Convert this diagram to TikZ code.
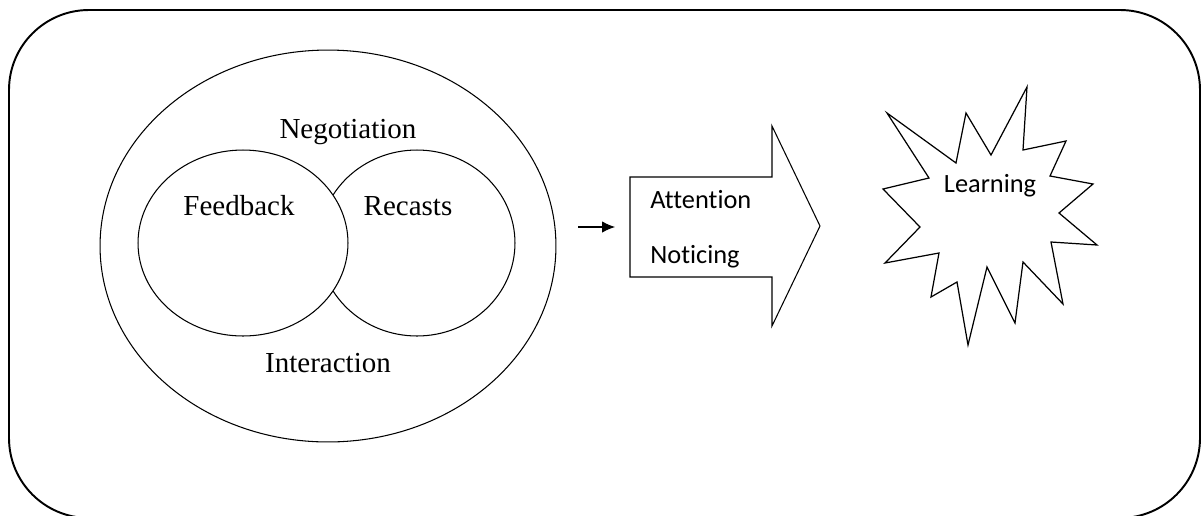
\documentclass[tikz,border=0pt]{standalone}
\usepackage{fontspec}
\setmainfont{Liberation Serif}
\newfontfamily\calibfont[Ligatures=NoCommon]{Carlito}
\usetikzlibrary{positioning, shapes.geometric, arrows.meta}

\begin{document}
\begin{tikzpicture}[x=0.02cm, y=-0.02cm,
    ring/.style={draw, ellipse, inner sep=0pt, line width=0.6pt},
    serifword/.style={font=\fontsize{16.5}{18}\selectfont, inner sep=0pt},
    sansword/.style={font=\calibfont\fontsize{15}{17}\selectfont, inner sep=0pt}]
    \useasboundingbox (0,0) rectangle (1201,515);
    \draw [line width=1.1pt, rounded corners=1.6cm] (9,10) rectangle (1200,518);
    % the three rings
    \node [ring, minimum width=9.12cm, minimum height=7.84cm] (inter) at (328,246) {};
    \node [ring, minimum width=3.92cm, minimum height=3.72cm] (recast) at (417,243) {};
    \node [ring, fill=white, minimum width=4.2cm, minimum height=3.72cm] (feed) at (243,243) {};
    \node [serifword] (negtxt) at (348,132) {Negotiation};
    \node [serifword] (feedtxt) at (239,206) {Feedback};
    \node [serifword] (recasttxt) at (408,206) {Recasts};
    \node [serifword] (intertxt) at (328,363) {Interaction};
    % block arrow
    \coordinate (shaft) at (630,227);
    \coordinate (from) at (578,227);
    \draw [line width=0.6pt] (630,177) -- (772,177) -- (772,126) -- (820,226)
        -- (772,326) -- (772,277) -- (630,277) -- cycle;
    \node [sansword, anchor=west] (atten) at (650,200) {Attention};
    \node [sansword, anchor=west] (notice) at (650,257) {Noticing};
    \draw [-{Latex[length=2.6mm,width=2.3mm]}, line width=0.6pt, shorten >=0.3cm] (from) -- (shaft);
    % star
    \draw [line width=0.7pt] (887,113) -- (956,163) -- (966,113) -- (991,155)
        -- (1027,87) -- (1023,150) -- (1066,141) -- (1050,176) -- (1093,184)
        -- (1059,213) -- (1097,245) -- (1051,242) -- (1063,304) -- (1023,262)
        -- (1015,323) -- (987,267) -- (968,345) -- (957,282) -- (931,297)
        -- (939,253) -- (885,263) -- (920,227) -- (883,189) -- (929,178) -- cycle;
    \node [sansword] (learn) at (990,186) {Learning};
\end{tikzpicture}
\end{document}
